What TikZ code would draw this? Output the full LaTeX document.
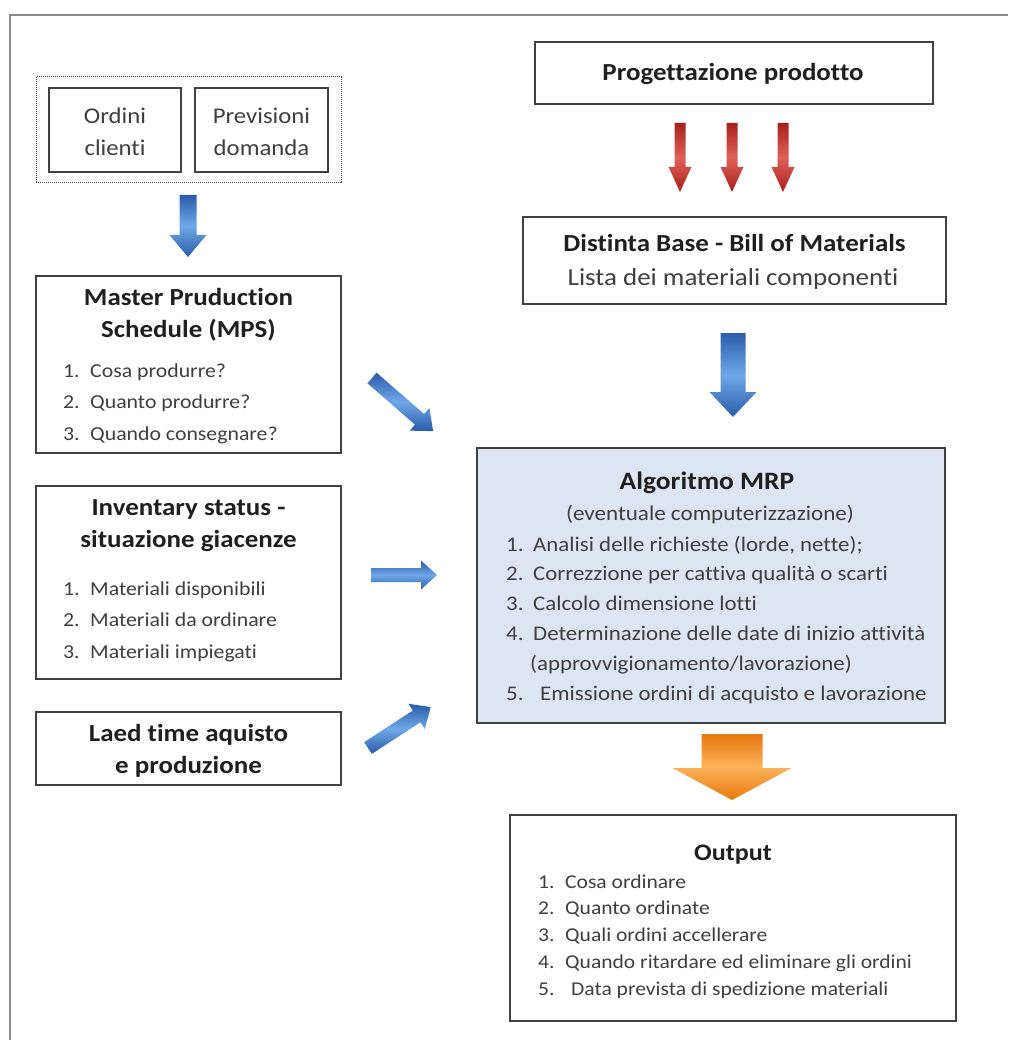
\documentclass[tikz,border=0pt]{standalone}
\usepackage{fontspec}
\setmainfont{Carlito}[FakeStretch=1.1, Ligatures=NoCommon]
\usetikzlibrary{calc}

\definecolor{edge}{HTML}{404040}
\definecolor{ink}{HTML}{1F1F1F}
\definecolor{softink}{HTML}{3F3F3F}
\definecolor{mrpfill}{HTML}{DCE6F2}
\definecolor{framegray}{HTML}{8A8A8A}
\definecolor{blueDark}{HTML}{2A5CAA}
\definecolor{blueLight}{HTML}{6FA8E8}
\definecolor{redDark}{HTML}{A8201A}
\definecolor{redLight}{HTML}{E0605A}
\definecolor{orgDark}{HTML}{E8780E}
\definecolor{orgLight}{HTML}{FDB35A}

% font size helper and numbered list line
\newcommand{\setfs}[2]{\fontsize{#1}{#2}\selectfont}
\newcommand{\enumline}[2]{\makebox[27pt][l]{#1.}#2}

\begin{document}
\begin{tikzpicture}[x=1pt,y=-1pt,
  box/.style={draw=edge, line width=1.3pt, fill=white, inner sep=0pt},
  dotbox/.style={draw=edge, line width=1pt, densely dotted, inner sep=0pt},
  txt/.style={inner sep=0pt, anchor=base},
  title/.style={txt, font=\bfseries\setfs{24.5}{31.5}, text=ink, align=center},
  plain/.style={txt, font=\setfs{22.5}{32}, text=softink, align=center},
  list/.style={inner sep=0pt, anchor=base west, font=\setfs{19.8}{31.5}, text=softink, align=left},
  blueshade/.style={top color=blueDark, bottom color=blueDark, middle color=blueLight},
  redshade/.style={top color=redDark, bottom color=redDark, middle color=redLight},
  orangeshade/.style={top color=orgDark, bottom color=orgDark, middle color=orgLight},
  pics/blockarrow/.style n args={5}{code={
    \shade[#5] (0,-#2/2) -- ({#1-#4},-#2/2) -- ({#1-#4},-#3/2) -- (#1,0)
      -- ({#1-#4},#3/2) -- ({#1-#4},#2/2) -- (0,#2/2) -- cycle;
  }},
  along/.style={pos=0, sloped, allow upside down}
]
\useasboundingbox (0,0) rectangle (1008,1040);

% page frame
\draw[framegray, line width=2pt] (10,1040) -- (10,15) -- (1008,15);

% ---------- left column ----------
% (multi-line nodes: the base anchor sits on the last line)
\node[dotbox, minimum width=305, minimum height=106] (grp) at (188.5,130) {};
\node[box, minimum width=132, minimum height=84] (ord) at (115,130) {};
\node[box, minimum width=133, minimum height=84] (prev) at (261.5,130) {};
\node[plain] (ordT) at (115,156) {Ordini\\clienti};
\node[plain] (prevT) at (261.5,156) {Previsioni\\domanda};

\node[box, minimum width=305, minimum height=177] (mps) at (188.5,364.5) {};
\node[title] (mpsT) at (188.5,337) {Master Pruduction\\Schedule (MPS)};
\node[list] (mpsL) at (63,440) {\enumline{1}{Cosa produrre?}\\\enumline{2}{Quanto produrre?}\\\enumline{3}{Quando consegnare?}};

\node[box, minimum width=305, minimum height=193] (inv) at (188.5,582.5) {};
\node[title] (invT) at (188.5,547) {Inventary status -\\situazione giacenze};
\node[list] (invL) at (63,658) {\enumline{1}{Materiali disponibili}\\\enumline{2}{Materiali da ordinare}\\\enumline{3}{Materiali impiegati}};

\node[box, minimum width=305, minimum height=73] (lead) at (188.5,748.5) {};
\node[title] (leadT) at (188.5,773) {Laed time aquisto\\e produzione};

% ---------- right column ----------
\node[box, minimum width=398, minimum height=62] (prog) at (734,73) {};
\node[title] (progT) at (733,81) {Progettazione prodotto};

\node[box, minimum width=423, minimum height=87] (bom) at (734.5,260.5) {};
\node[title] (bomT) at (734.5,252) {Distinta Base - Bill of Materials};
\node[plain, font=\setfs{24.5}{30}] (bomS) at (733,286) {Lista dei materiali componenti};

\node[box, fill=mrpfill, minimum width=468, minimum height=275] (mrp) at (711,585.5) {};
\node[title, font=\bfseries\setfs{25}{30}] (mrpT) at (707,489) {Algoritmo MRP};
\node[plain, font=\setfs{21}{30}] (mrpS) at (710,520) {(eventuale computerizzazione)};
\node[list, font=\setfs{20.8}{29.8}] (mrpL) at (506,700) {%
  \enumline{1}{Analisi delle richieste (lorde, nette);}\\
  \enumline{2}{Correzzione per cattiva qualità o scarti}\\
  \enumline{3}{Calcolo dimensione lotti}\\
  \enumline{4}{Determinazione delle date di inizio attività}\\
  \hspace*{24pt}(approvvigionamento/lavorazione)\\
  \enumline{5}{\hspace*{7pt}Emissione ordini di acquisto e lavorazione}};

\node[box, minimum width=446, minimum height=206] (out) at (733,918) {};
\node[title, font=\bfseries\setfs{23.7}{30}] (outT) at (733,860) {Output};
\node[list, font=\setfs{19.6}{26.7}] (outL) at (538,995) {%
  \enumline{1}{Cosa ordinare}\\
  \enumline{2}{Quanto ordinate}\\
  \enumline{3}{Quali ordini accellerare}\\
  \enumline{4}{Quando ritardare ed eliminare gli ordini}\\
  \enumline{5}{\hspace*{6pt}Data prevista di spedizione materiali}};

% ---------- block arrows ----------
\coordinate (a1s) at (188,195);  \coordinate (a1e) at (188,257);
\coordinate (a2s) at (372,378);  \coordinate (a2e) at (433,431);
\coordinate (a3s) at (371,575);  \coordinate (a3e) at (437,575);
\coordinate (a4s) at (368,748);  \coordinate (a4e) at (431,707);
\coordinate (r1s) at (680,123);  \coordinate (r1e) at (680,192);
\coordinate (r2s) at (732,123);  \coordinate (r2e) at (732,192);
\coordinate (r3s) at (783,123);  \coordinate (r3e) at (783,192);
\coordinate (b1s) at (733,333);  \coordinate (b1e) at (733,417);
\coordinate (o1s) at (732,734);  \coordinate (o1e) at (732,800);

\path (a1s) -- pic[along] {blockarrow={62}{17}{37}{22}{blueshade}} (a1e);
\path (a2s) -- pic[along] {blockarrow={81}{14}{30}{18}{blueshade}} (a2e);
\path (a3s) -- pic[along] {blockarrow={66}{14}{29}{16}{blueshade}} (a3e);
\path (a4s) -- pic[along] {blockarrow={75}{14}{30}{17}{blueshade}} (a4e);
\path (r1s) -- pic[along] {blockarrow={69}{11}{23}{25}{redshade}} (r1e);
\path (r2s) -- pic[along] {blockarrow={69}{11}{23}{25}{redshade}} (r2e);
\path (r3s) -- pic[along] {blockarrow={69}{11}{23}{25}{redshade}} (r3e);
\path (b1s) -- pic[along] {blockarrow={84}{25}{47}{25}{blueshade}} (b1e);
\path (o1s) -- pic[along] {blockarrow={66}{61}{119}{32}{orangeshade}} (o1e);
\end{tikzpicture}
\end{document}
